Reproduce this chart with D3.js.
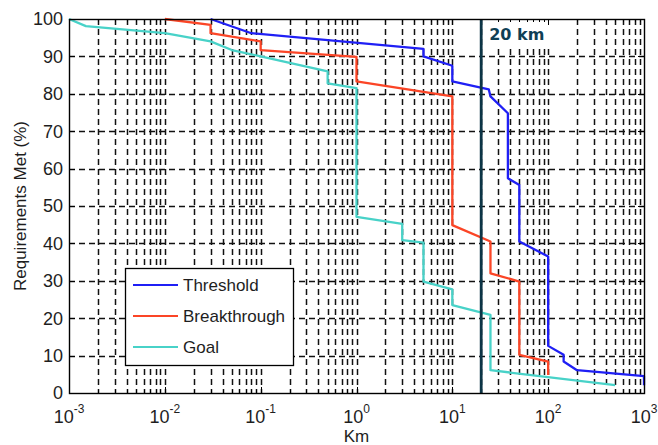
<!DOCTYPE html>
<html>
<head>
<meta charset="utf-8">
<script src="https://cdn.jsdelivr.net/npm/d3@7/dist/d3.min.js"></script>
<style>
  body { margin: 0; background: #fff; }
  text { font-family: "Liberation Sans", Arial, sans-serif; fill: #1e1e1e; }
</style>
</head>
<body>
<div id="chartholder"></div>
<script>
// range covered (km) against share of requirements met (%)
var thresholdKm  = [0.03, 0.08, 5, 5, 10, 10, 24, 25, 38, 38, 50, 50, 100, 100, 145, 145, 200, 1000, 1000];
var thresholdPct = [100, 96.2, 92, 90, 87.5, 83.3, 81.2, 79.3, 74.8, 57.4, 55.6, 40.5, 36.5, 12.6, 10.2, 8.4, 6.1, 4.5, 2.1];

var breakKm  = [0.01, 0.03, 0.03, 0.1, 0.1, 1, 1, 10, 10, 25, 25, 50, 50, 100, 100];
var breakPct = [100, 98.4, 96.2, 94, 91.7, 89.9, 83.3, 79.3, 44.9, 40.5, 32, 29.8, 10.2, 8.4, 4.8];

var goalKm  = [0.001, 0.0015, 0.01, 0.03, 0.05, 0.1, 0.5, 0.5, 1, 1, 3, 3, 5, 5, 10, 10, 25, 25, 500];
var goalPct = [100, 98.1, 96.2, 94, 91.7, 90, 86, 82.8, 81.5, 47.1, 45.2, 40.9, 40.2, 29.8, 27.7, 23.5, 20.9, 6.1, 2.1];

var seriesNames = ["Threshold", "Breakthrough", "Goal"];
var seriesColors = ["#1f1ff5", "#fb4526", "#48d2c8"];

var xExponents = [-3, -2, -1, 0, 1, 2, 3];
var yTicks = [0, 10, 20, 30, 40, 50, 60, 70, 80, 90, 100];
var markerKm = 20;

function makeChart() {
    var width = 658, height = 445;
    var m = {top: 19, right: 14, bottom: 52, left: 69};
    var w = width - m.left - m.right;
    var h = height - m.top - m.bottom;

    var svg = d3.select('#chartholder').append('svg')
        .attr('width', width).attr('height', height);
    var g = svg.append('g').attr('transform', 'translate(' + m.left + ',' + m.top + ')');

    var x = d3.scaleLog().domain([1e-3, 1e3]).range([0, w]);
    var y = d3.scaleLinear().domain([0, 100]).range([h, 0]);

    // every 1..9 x 10^k position for the minor grid
    var minorX = [];
    xExponents.forEach(function (e) {
        for (var k = 1; k <= 9; k++) {
            var v = k * Math.pow(10, e);
            if (v <= 1e3 * 1.0001) minorX.push(v);
        }
    });

    var grid = g.append('g')
        .attr('stroke', '#111').attr('stroke-width', 1.5)
        .attr('stroke-dasharray', '6,4');
    grid.selectAll('line.v').data(minorX.filter(function (v) { return v > 1e-3 && v < 1e3; }))
        .enter().append('line')
        .attr('x1', function (d) { return Math.round(x(d)) + 0.5; })
        .attr('x2', function (d) { return Math.round(x(d)) + 0.5; })
        .attr('y1', 0).attr('y2', h);
    grid.selectAll('line.h').data(yTicks.slice(1, -1))
        .enter().append('line')
        .attr('x1', 0).attr('x2', w)
        .attr('y1', function (d) { return Math.round(y(d)) + 0.5; })
        .attr('y2', function (d) { return Math.round(y(d)) + 0.5; });

    // blank patch behind the marker label
    g.append('rect')
        .attr('x', x(markerKm) + 2).attr('y', 1)
        .attr('width', 88).attr('height', 27)
        .attr('fill', '#fff');

    // tick marks on all four sides, pointing inwards
    var ticks = g.append('g').attr('stroke', '#000').attr('stroke-width', 1);
    minorX.forEach(function (v) {
        var major = Math.abs(Math.log10(v) - Math.round(Math.log10(v))) < 1e-6;
        var len = major ? 6 : 3;
        var px = Math.round(x(v)) + 0.5;
        ticks.append('line').attr('x1', px).attr('x2', px).attr('y1', h).attr('y2', h - len);
        ticks.append('line').attr('x1', px).attr('x2', px).attr('y1', 0).attr('y2', len);
    });
    yTicks.forEach(function (v) {
        var py = Math.round(y(v)) + 0.5;
        ticks.append('line').attr('x1', 0).attr('x2', 6).attr('y1', py).attr('y2', py);
        ticks.append('line').attr('x1', w).attr('x2', w - 6).attr('y1', py).attr('y2', py);
    });

    // series
    var line = d3.line()
        .x(function (d) { return x(d[0]); })
        .y(function (d) { return y(d[1]); });
    var series = [
        d3.zip(thresholdKm, thresholdPct),
        d3.zip(breakKm, breakPct),
        d3.zip(goalKm, goalPct)
    ];
    series.forEach(function (pts, i) {
        g.append('path').datum(pts)
            .attr('d', line)
            .attr('fill', 'none')
            .attr('stroke', seriesColors[i])
            .attr('stroke-width', 2.3)
            .attr('stroke-linejoin', 'round');
    });

    // 20 km marker
    g.append('line')
        .attr('x1', x(markerKm)).attr('x2', x(markerKm))
        .attr('y1', 0).attr('y2', h)
        .attr('stroke', '#0c3546').attr('stroke-width', 2.8);
    g.append('text')
        .attr('x', x(markerKm) + 8).attr('y', 21)
        .style('font-family', '"DejaVu Sans", Verdana, sans-serif')
        .style('font-weight', 'bold').style('font-size', '16px')
        .style('fill', '#0f3f55')
        .text(markerKm + ' km');

    // axes box
    g.append('rect').attr('x', 0.5).attr('y', 0.5).attr('width', w).attr('height', h)
        .attr('fill', 'none').attr('stroke', '#000').attr('stroke-width', 1.4);

    // y tick labels
    g.selectAll('text.ylab').data(yTicks).enter().append('text')
        .attr('x', -6).attr('y', function (d) { return y(d); })
        .attr('dy', '0.36em')
        .attr('text-anchor', 'end')
        .style('font-size', '18px')
        .text(function (d) { return d; });

    // x tick labels as 10 with a raised exponent
    xExponents.forEach(function (e) {
        var t = g.append('text')
            .attr('x', x(Math.pow(10, e)))
            .attr('y', h + 30)
            .attr('text-anchor', 'middle')
            .style('font-size', '18px');
        t.append('tspan').text('10');
        t.append('tspan').attr('dy', -10).style('font-size', '12px').text(e);
    });

    g.append('text')
        .attr('x', w / 2).attr('y', h + 49)
        .attr('text-anchor', 'middle')
        .style('font-size', '17px')
        .text('Km');

    g.append('text')
        .attr('transform', 'translate(' + (-43) + ',' + (h / 2) + ') rotate(-90)')
        .attr('text-anchor', 'middle')
        .style('font-size', '17px')
        .text('Requirements Met (%)');

    // legend
    var lg = g.append('g').attr('transform', 'translate(' + (125 - m.left) + ',' + (268 - m.top) + ')');
    lg.append('rect').attr('x', 0.5).attr('y', 0.5).attr('width', 168).attr('height', 97)
        .attr('fill', '#fff').attr('stroke', '#000').attr('stroke-width', 1.3);
    seriesNames.forEach(function (name, i) {
        var cy = 17 + i * 31;
        lg.append('line').attr('x1', 8).attr('x2', 53).attr('y1', cy).attr('y2', cy)
            .attr('stroke', seriesColors[i]).attr('stroke-width', 2);
        lg.append('text').attr('x', 58).attr('y', cy).attr('dy', '0.36em')
            .style('font-size', '17px')
            .text(name);
    });
}

makeChart();
</script>
</body>
</html>
